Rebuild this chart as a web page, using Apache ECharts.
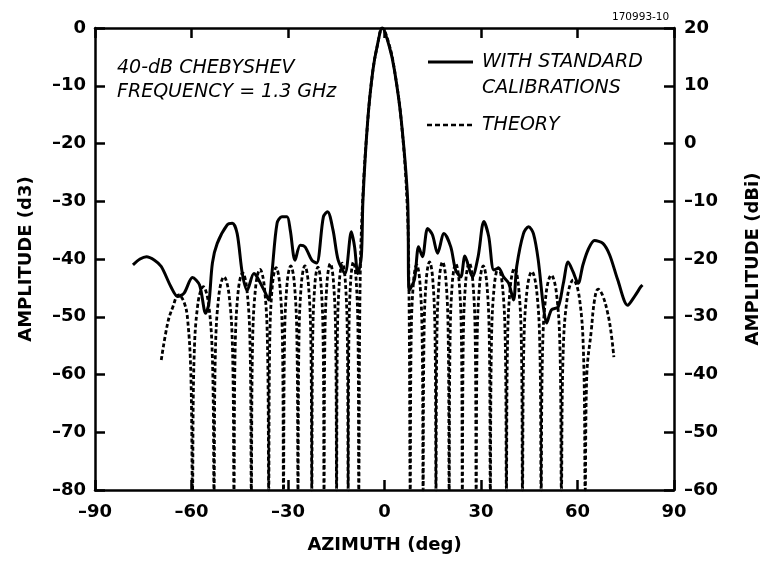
<!DOCTYPE html>
<html><head><meta charset="utf-8">
<script src="https://cdn.jsdelivr.net/npm/echarts@6/dist/echarts.min.js"></script>
<style>html,body{margin:0;padding:0;background:#fff}#c{width:770px;height:565px}</style>
</head><body><div id="c"></div>
<script>
// Tick values and labels
const xTickValues = [-90, -60, -30, 0, 30, 60, 90];
const xTickLabels = ['–90', '–60', '–30', '0', '30', '60', '90'];
const leftTickValues = [-80, -70, -60, -50, -40, -30, -20, -10, 0];
const leftTickLabels = ['–80', '–70', '–60', '–50', '–40', '–30', '–20', '–10', '0'];
const rightTickValues = [-60, -50, -40, -30, -20, -10, 0, 10, 20];
const rightTickLabels = ['–60', '–50', '–40', '–30', '–20', '–10', '0', '10', '20'];

// Measured pattern, WITH STANDARD CALIBRATIONS: [azimuth deg, amplitude dB]
const measured = [
  [-78.2,-41.0],[-76.0,-40.0],[-74.0,-39.6],[-71.5,-40.2],[-69.4,-41.3],[-66.4,-44.8],[-64.3,-46.5],
  [-62.3,-45.9],[-59.7,-43.2],[-57.5,-44.5],[-55.6,-49.4],[-54.6,-47.7],[-53.5,-40.7],[-52.0,-37.3],
  [-48.9,-34.1],[-47.3,-33.8],[-45.8,-35.6],[-44.2,-42.5],[-42.7,-45.4],[-40.6,-42.5],[-39.6,-43.1],
  [-37.0,-45.9],[-36.0,-47.1],[-35.0,-42.5],[-33.4,-33.8],[-31.9,-32.7],[-30.3,-32.7],[-29.3,-35.0],
  [-27.8,-40.2],[-26.2,-37.6],[-24.7,-37.9],[-22.6,-40.2],[-21.1,-40.7],[-19.0,-32.7],[-17.7,-31.8],
  [-16.0,-35.0],[-14.4,-40.2],[-12.3,-42.5],[-10.3,-35.3],[-9.3,-37.9],[-8.3,-42.5],[-7.2,-39.6],
  [-6.7,-29.8],[-5.2,-15.9],[-3.6,-7.3],[-2.3,-3.2],[-0.7,0.0],[1.5,-3.2],[3.1,-7.3],[5.2,-15.9],
  [7.2,-29.8],[7.7,-45.4],[9.3,-43.6],[10.6,-37.9],[11.8,-39.6],[13.4,-34.7],[14.9,-35.8],[16.5,-39.0],
  [18.5,-35.6],[20.6,-37.9],[22.1,-41.9],[23.7,-43.1],[25.0,-39.5],[27.3,-43.1],[29.1,-39.6],[30.9,-33.5],
  [32.4,-36.1],[34.0,-41.9],[35.5,-41.6],[37.0,-43.1],[38.6,-44.2],[40.1,-47.1],[41.1,-41.3],[43.2,-35.6],
  [44.8,-34.4],[46.3,-35.6],[47.8,-40.2],[49.4,-48.3],[50.4,-51.1],[51.9,-48.8],[54.0,-48.3],[55.6,-44.2],
  [57.1,-40.5],[58.6,-42.2],[60.2,-44.2],[61.7,-41.0],[63.3,-38.4],[65.3,-36.8],[67.9,-37.3],[70.0,-39.3],
  [72.5,-43.6],[75.6,-48.0],[77.7,-46.5],[79.7,-44.8],[80.2,-44.5]
];

// THEORY pattern: [azimuth deg, amplitude dB]; nulls fall to the axis floor
const theory = [
  [-69.4,-57.5],[-67.4,-51.1],[-65.8,-48.3],[-64.0,-46.2],[-62.3,-47.5],[-61.2,-50.5],[-60.2,-60],[-59.7,-80],
  [-59.23,-57.8],[-58.03,-47.8],[-56.35,-44.8],[-54.68,-47.8],[-53.47,-57.8],[-53.0,-80],
  [-52.57,-56.1],[-51.45,-46.1],[-49.9,-43.1],[-48.35,-46.1],[-47.23,-56.1],[-46.8,-80],
  [-46.42,-55.4],[-45.45,-45.4],[-44.1,-42.4],[-42.75,-45.4],[-41.78,-55.4],[-41.4,-80],
  [-41.02,-54.8],[-40.05,-44.8],[-38.7,-41.8],[-37.35,-44.8],[-36.38,-54.8],[-36.0,-80],
  [-35.68,-54.5],[-34.85,-44.5],[-33.7,-41.5],[-32.55,-44.5],[-31.72,-54.5],[-31.4,-80],
  [-31.08,-54.2],[-30.28,-44.2],[-29.15,-41.2],[-28.03,-44.2],[-27.22,-54.2],[-26.9,-80],
  [-26.6,-54.2],[-25.83,-44.2],[-24.75,-41.2],[-23.68,-44.2],[-22.9,-54.2],[-22.6,-80],
  [-22.33,-54.4],[-21.65,-44.4],[-20.7,-41.4],[-19.75,-44.4],[-19.07,-54.4],[-18.8,-80],
  [-18.53,-53.8],[-17.83,-43.8],[-16.85,-40.8],[-15.88,-43.8],[-15.17,-53.8],[-14.9,-80],
  [-14.65,-53.7],[-14.0,-43.7],[-13.1,-40.7],[-12.2,-43.7],[-11.55,-53.7],[-11.3,-80],
  [-11.07,-53.5],[-10.48,-43.5],[-9.65,-40.5],[-8.83,-43.5],[-8.23,-53.5],[-8.0,-80],
  [-7.6,-45],[-6.8,-30],[-5.2,-16],[-3.6,-7.3],[-2.2,-3],[-0.7,0],[1.5,-3],[3.1,-7.3],[5.2,-16],[7.0,-30],[7.6,-45],[8.0,-80],
  [8.28,-54],[9.0,-44],[10.0,-41],[11.0,-44],[11.72,-54],[12.0,-80],
  [12.28,-53.5],[13.0,-43.5],[14.0,-40.5],[15.0,-43.5],[15.72,-53.5],[16.0,-80],
  [16.29,-53.5],[17.03,-43.5],[18.05,-40.5],[19.08,-43.5],[19.81,-53.5],[20.1,-80],
  [20.39,-53.8],[21.13,-43.8],[22.15,-40.8],[23.18,-43.8],[23.91,-53.8],[24.2,-80],
  [24.5,-53.7],[25.28,-43.7],[26.35,-40.7],[27.43,-43.7],[28.2,-53.7],[28.5,-80],
  [28.81,-54.2],[29.6,-44.2],[30.7,-41.2],[31.8,-44.2],[32.59,-54.2],[32.9,-80],
  [33.25,-54.5],[34.15,-44.5],[35.4,-41.5],[36.65,-44.5],[37.55,-54.5],[37.9,-80],
  [38.25,-54.6],[39.15,-44.6],[40.4,-41.6],[41.65,-44.6],[42.55,-54.6],[42.9,-80],
  [43.31,-55.2],[44.35,-45.2],[45.8,-42.2],[47.25,-45.2],[48.29,-55.2],[48.7,-80],
  [49.14,-55.8],[50.28,-45.8],[51.85,-42.8],[53.43,-45.8],[54.56,-55.8],[55.0,-80],
  [55.52,-56.6],[56.85,-46.6],[58.7,-43.6],[60.55,-46.6],[61.88,-56.6],[62.4,-80],
  [62.9,-60],[64.3,-52.3],[65.3,-47.1],[66.4,-45.2],[67.8,-46.3],[69.4,-49.4],[70.5,-53],[71.3,-57]
];

function labelFor(values, labels) {
  return function (v) {
    const i = values.findIndex(t => Math.abs(t - v) < 1e-6);
    return i >= 0 ? labels[i] : '';
  };
}

const INK = '#000';
const FONT = '"DejaVu Sans", "Liberation Sans", sans-serif';
const tickLabelStyle = { color: INK, fontFamily: FONT, fontWeight: 'bold', fontSize: 18 };
const nameStyle = { color: INK, fontFamily: FONT, fontWeight: 'bold', fontSize: 18 };
const axisLine = { show: true, onZero: false, lineStyle: { color: INK, width: 2.5 } };
const axisTick = { show: true, inside: true, length: 10, lineStyle: { color: INK, width: 2.5 } };

const chart = echarts.init(document.getElementById('c'), null, { renderer: 'canvas' });
chart.setOption({
  animation: false,
  backgroundColor: '#fff',
  grid: { left: 95, right: 94, top: 28, bottom: 75, containLabel: false },
  xAxis: [
    {
      type: 'value', position: 'bottom', min: -90, max: 90, interval: 30,
      name: 'AZIMUTH (deg)', nameLocation: 'middle', nameGap: 46, nameTextStyle: nameStyle,
      axisLine, axisTick, splitLine: { show: false },
      axisLabel: { ...tickLabelStyle, margin: 13, formatter: labelFor(xTickValues, xTickLabels) }
    },
    {
      type: 'value', position: 'top', min: -90, max: 90, interval: 30,
      axisLine, axisTick, splitLine: { show: false }, axisLabel: { show: false }
    }
  ],
  yAxis: [
    {
      type: 'value', position: 'left', min: -80, max: 0, interval: 10,
      name: 'AMPLITUDE (d3)', nameLocation: 'middle', nameRotate: 90, nameGap: 60, nameTextStyle: nameStyle,
      axisLine, axisTick, splitLine: { show: false },
      axisLabel: { ...tickLabelStyle, margin: 9, formatter: labelFor(leftTickValues, leftTickLabels) }
    },
    {
      type: 'value', position: 'right', min: -60, max: 20, interval: 10,
      name: 'AMPLITUDE (dBi)', nameLocation: 'middle', nameRotate: 90, nameGap: 70, nameTextStyle: nameStyle,
      axisLine, axisTick, splitLine: { show: false },
      axisLabel: { ...tickLabelStyle, margin: 10, formatter: labelFor(rightTickValues, rightTickLabels) }
    }
  ],
  series: [
    {
      name: 'THEORY', type: 'line', data: theory, xAxisIndex: 0, yAxisIndex: 0,
      showSymbol: false, smooth: 0.4, clip: true, z: 2,
      lineStyle: { color: INK, width: 2.8, type: [4, 2.5] }
    },
    {
      name: 'WITH STANDARD CALIBRATIONS', type: 'line', data: measured, xAxisIndex: 0, yAxisIndex: 0,
      showSymbol: false, smooth: 0.3, clip: true, z: 3,
      lineStyle: { color: INK, width: 3 }
    }
  ],
  graphic: [
    { type: 'text', x: 117, y: 68, style: { text: '40-dB CHEBYSHEV', font: 'italic 19px ' + FONT, fill: INK, verticalAlign: 'middle' } },
    { type: 'text', x: 117, y: 92, style: { text: 'FREQUENCY = 1.3 GHz', font: 'italic 19px ' + FONT, fill: INK, verticalAlign: 'middle' } },
    { type: 'line', shape: { x1: 428, y1: 62, x2: 473, y2: 62 }, style: { stroke: INK, lineWidth: 3 } },
    { type: 'text', x: 482, y: 62, style: { text: 'WITH STANDARD', font: 'italic 19px ' + FONT, fill: INK, verticalAlign: 'middle' } },
    { type: 'text', x: 482, y: 88, style: { text: 'CALIBRATIONS', font: 'italic 19px ' + FONT, fill: INK, verticalAlign: 'middle' } },
    { type: 'line', shape: { x1: 427, y1: 125, x2: 475, y2: 125 }, style: { stroke: INK, lineWidth: 2.5, lineDash: [5, 3] } },
    { type: 'text', x: 482, y: 125, style: { text: 'THEORY', font: 'italic 19px ' + FONT, fill: INK, verticalAlign: 'middle' } },
    { type: 'text', x: 612, y: 17, style: { text: '170993-10', font: '10.5px ' + FONT, fill: INK, verticalAlign: 'middle' } }
  ]
});
</script>
</body></html>
